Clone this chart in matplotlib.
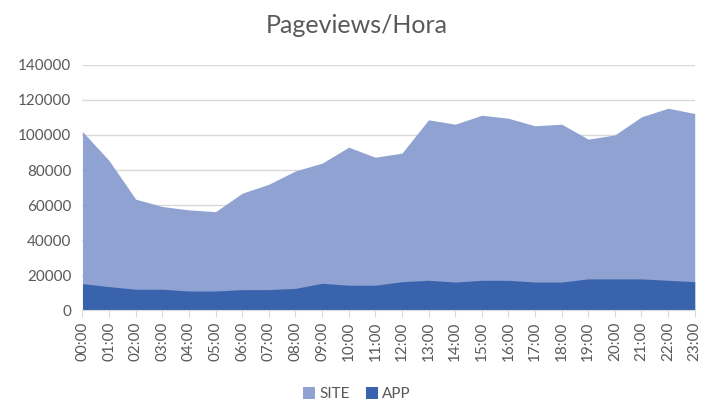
import matplotlib
matplotlib.use("Agg")
import matplotlib.pyplot as plt
import numpy as np

hours = [f"{h:02d}:00" for h in range(24)]
site = [101900, 85400, 63400, 59200, 57300, 56300, 66800, 71900, 79500, 83900,
        93000, 87300, 89600, 108600, 106100, 111200, 109500, 105200, 106100,
        97600, 100000, 110300, 115200, 112200]
app = [15300, 13600, 12100, 12100, 11100, 11100, 11900, 11900, 12600, 15500,
       14400, 14400, 16400, 17200, 16200, 17200, 17200, 16200, 16200, 18000,
       18000, 18000, 17200, 16400]
yticks = [0, 20000, 40000, 60000, 80000, 100000, 120000, 140000]

plt.rcParams['font.family'] = ['Lato', 'DejaVu Sans']
site_c = '#8FA2D1'
app_c = '#3964AD'
txt_c = '#595959'

fig = plt.figure(figsize=(7.14, 4.01), dpi=100)
ax = fig.add_axes([0.1155, 0.2257, 0.8575, 0.613])
x = np.arange(len(hours))
ax.fill_between(x, 0, site, color=site_c, linewidth=0, label='SITE', zorder=2)
ax.fill_between(x, 0, app, color=app_c, linewidth=0, label='APP', zorder=3)
ax.set_xlim(0, len(hours) - 1)
ax.set_ylim(0, 140000)
ax.set_yticks(yticks)
ax.set_yticklabels([str(v) for v in yticks], color=txt_c, fontsize=11)
ax.set_xticks(x)
ax.set_xticklabels(hours, rotation=90, color=txt_c, fontsize=11)
ax.grid(axis='y', color='#D9D9D9', linewidth=1, zorder=0)
ax.set_axisbelow(True)
for s in ['top', 'right', 'left']:
    ax.spines[s].set_visible(False)
ax.spines['bottom'].set_color('#D9D9D9')
ax.spines['bottom'].set_zorder(4)
ax.tick_params(axis='y', length=0, pad=8)
ax.tick_params(axis='x', length=5, color='#D9D9D9', pad=3)
fig.text(0.5, 0.937, 'Pageviews/Hora', ha='center', va='center', fontsize=18, color=txt_c)
fig.legend(loc='lower center', bbox_to_anchor=(0.5, -0.035), ncol=2, frameon=False,
           fontsize=11, handlelength=0.8, handleheight=0.8, columnspacing=1.0,
           handletextpad=0.3, labelcolor=txt_c)
fig.savefig('out.png', dpi=100)
